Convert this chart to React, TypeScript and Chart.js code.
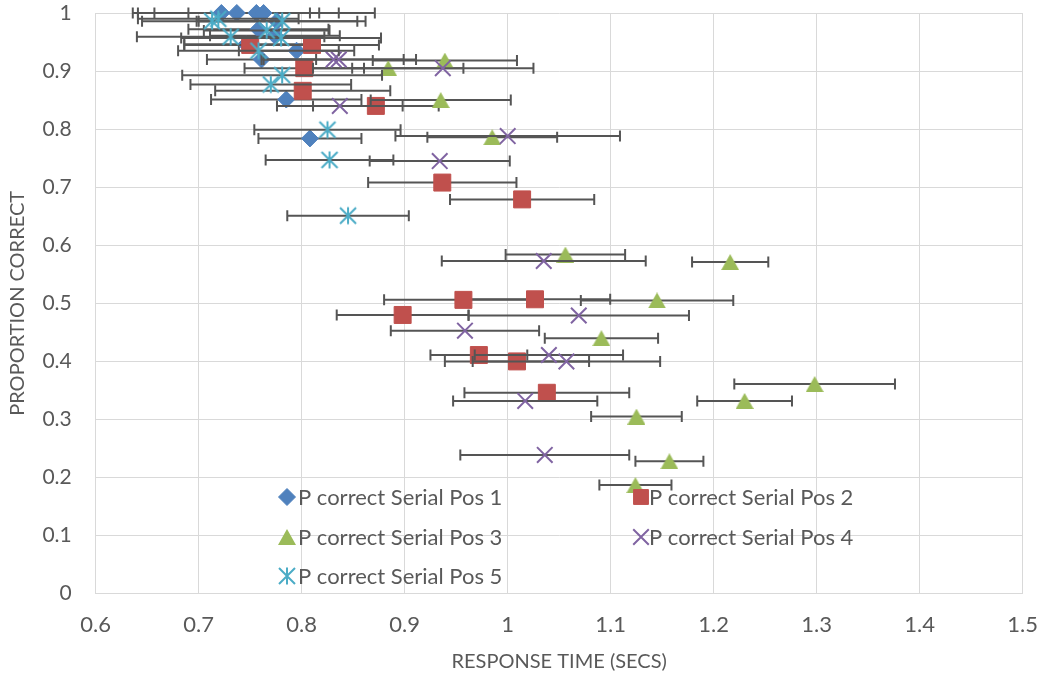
import React, { useEffect, useRef } from "react";
import { Chart, registerables } from "chart.js";
import { drawPoint } from "chart.js/helpers";

Chart.register(...registerables);

// ---------- DATA ----------
const seriesNames = [
  "P correct Serial Pos 1",
  "P correct Serial Pos 2",
  "P correct Serial Pos 3",
  "P correct Serial Pos 4",
  "P correct Serial Pos 5",
];

const pos1RT = [0.722, 0.737, 0.756, 0.763, 0.776, 0.758, 0.774, 0.746, 0.795, 0.761, 0.785, 0.808];
const pos1P = [1.0, 1.0, 1.0, 1.0, 0.986, 0.972, 0.961, 0.946, 0.935, 0.92, 0.851, 0.784];
const pos1Err = [0.086, 0.08, 0.115, 0.073, 0.078, 0.068, 0.063, 0.06, 0.056, 0.053, 0.073, 0.05];

const pos2RT = [0.75, 0.81, 0.8025, 0.801, 0.872, 0.9365, 1.014, 0.957, 1.0265, 0.898, 0.972, 1.009, 1.038];
const pos2P = [0.945, 0.945, 0.905, 0.866, 0.84, 0.708, 0.679, 0.506, 0.507, 0.48, 0.411, 0.4, 0.346];
const pos2Err = [0.064, 0.065, 0.058, 0.085, 0.061, 0.072, 0.07, 0.077, 0.073, 0.064, 0.047, 0.07, 0.08];

const pos3RT = [0.939, 0.884, 0.935, 0.985, 1.056, 1.216, 1.145, 1.091, 1.298, 1.23, 1.125, 1.157, 1.124];
const pos3P = [0.918, 0.905, 0.85, 0.786, 0.584, 0.571, 0.505, 0.44, 0.361, 0.332, 0.305, 0.228, 0.187];
const pos3Err = [0.07, 0.073, 0.068, 0.063, 0.058, 0.037, 0.074, 0.055, 0.078, 0.046, 0.044, 0.033, 0.035];

const pos4RT = [0.831, 0.836, 0.937, 0.837, 1.0, 0.934, 1.035, 1.069, 0.9585, 1.04, 1.057, 1.017, 1.036];
const pos4P = [0.92, 0.92, 0.905, 0.84, 0.788, 0.745, 0.573, 0.479, 0.453, 0.411, 0.4, 0.332, 0.239];
const pos4Err = [0.068, 0.075, 0.088, 0.061, 0.109, 0.068, 0.099, 0.107, 0.072, 0.072, 0.091, 0.07, 0.082];

const pos5RT = [0.713, 0.719, 0.781, 0.731, 0.766, 0.78, 0.758, 0.781, 0.77, 0.825, 0.827, 0.845];
const pos5P = [0.986, 0.99, 0.986, 0.959, 0.97, 0.957, 0.935, 0.893, 0.877, 0.799, 0.747, 0.651];
const pos5Err = [0.068, 0.078, 0.081, 0.091, 0.061, 0.097, 0.078, 0.097, 0.078, 0.071, 0.062, 0.059];

const xMin = 0.6;
const xMax = 1.5;
const yMin = 0;
const yMax = 1;
const tickStep = 0.1;

const xTitle = "RESPONSE TIME (SECS)";
const yTitle = "PROPORTION CORRECT";

// ---------- STYLE ----------
const COLORS = ["#4F81BD", "#C0504D", "#9BBB59", "#8064A2", "#4BACC6"];
const TEXT = "#595959";
const GRID = "#D9D9D9";
const ERR = "#555555";
const FONT = "Lato, 'Open Sans', sans-serif";

function makeTriangle(color: string) {
  const c = document.createElement("canvas");
  c.width = 18;
  c.height = 16;
  const g = c.getContext("2d")!;
  g.fillStyle = color;
  g.beginPath();
  g.moveTo(9, 0);
  g.lineTo(18, 16);
  g.lineTo(0, 16);
  g.closePath();
  g.fill();
  return c;
}

function makeAsterisk(color: string) {
  const c = document.createElement("canvas");
  c.width = 20;
  c.height = 20;
  const g = c.getContext("2d")!;
  g.strokeStyle = color;
  g.lineWidth = 2;
  g.beginPath();
  g.moveTo(10, 1.5);
  g.lineTo(10, 18.5);
  g.moveTo(2, 2);
  g.lineTo(18, 18);
  g.moveTo(18, 2);
  g.lineTo(2, 18);
  g.stroke();
  return c;
}

function toPoints(xs: number[], ys: number[]) {
  return xs.map((x, i) => ({ x, y: ys[i] }));
}

const fmt = (v: number | string) => String(+Number(v).toFixed(1));

export default function App() {
  const ref = useRef<HTMLCanvasElement | null>(null);

  useEffect(() => {
    if (!ref.current) return;
    const tri = makeTriangle(COLORS[2]);
    const ast = makeAsterisk(COLORS[4]);

    const errs = [pos1Err, pos2Err, pos3Err, pos4Err, pos5Err];

    const styles: any[] = [
      { pointStyle: "rectRot", radius: 8.5, borderWidth: 1 },
      { pointStyle: "rect", radius: 12, borderWidth: 1 },
      { pointStyle: tri, radius: 9, borderWidth: 0 },
      { pointStyle: "crossRot", radius: 11, borderWidth: 2 },
      { pointStyle: ast, radius: 9, borderWidth: 0 },
    ];

    const sets = [
      toPoints(pos1RT, pos1P),
      toPoints(pos2RT, pos2P),
      toPoints(pos3RT, pos3P),
      toPoints(pos4RT, pos4P),
      toPoints(pos5RT, pos5P),
    ];

    const errorBars = {
      id: "errorBars",
      beforeDatasetDraw(chart: any, args: any) {
        const i = args.index;
        const e = errs[i];
        const ds = chart.data.datasets[i];
        const xs = chart.scales.x;
        const ys = chart.scales.y;
        const ctx = chart.ctx;
        ctx.save();
        ctx.strokeStyle = ERR;
        ctx.lineWidth = 2;
        ds.data.forEach((p: any, k: number) => {
          const y = ys.getPixelForValue(p.y);
          const x1 = xs.getPixelForValue(p.x - e[k]);
          const x2 = xs.getPixelForValue(p.x + e[k]);
          ctx.beginPath();
          ctx.moveTo(x1, y);
          ctx.lineTo(x2, y);
          ctx.moveTo(x1, y - 5.5);
          ctx.lineTo(x1, y + 5.5);
          ctx.moveTo(x2, y - 5.5);
          ctx.lineTo(x2, y + 5.5);
          ctx.stroke();
        });
        ctx.restore();
      },
    };

    const legendPos = [
      { mx: 287, tx: 298, y: 497 },
      { mx: 641, tx: 649, y: 497 },
      { mx: 287, tx: 298, y: 537 },
      { mx: 641, tx: 649, y: 537 },
      { mx: 287, tx: 298, y: 576 },
    ];

    const insideLegend = {
      id: "insideLegend",
      afterDatasetsDraw(chart: any) {
        const ctx = chart.ctx;
        ctx.save();
        seriesNames.forEach((name, i) => {
          const p = legendPos[i];
          ctx.fillStyle = COLORS[i];
          ctx.strokeStyle = COLORS[i];
          ctx.lineWidth = styles[i].borderWidth || 1;
          const st = styles[i];
          drawPoint(ctx, {
            pointStyle: st.pointStyle,
            radius: i === 1 ? 10.5 : st.radius,
            rotation: 0,
            borderWidth: st.borderWidth,
          } as any, p.mx, p.y);
          ctx.fillStyle = TEXT;
          ctx.font = `22px ${FONT}`;
          ctx.textAlign = "left";
          ctx.textBaseline = "middle";
          ctx.fillText(name, p.tx, p.y + 1);
        });
        ctx.restore();
      },
    };

    const chart = new Chart(ref.current, {
      type: "scatter",
      data: {
        datasets: sets.map((d, i) => ({
          label: seriesNames[i],
          data: d,
          pointStyle: styles[i].pointStyle,
          pointRadius: styles[i].radius,
          pointBorderWidth: styles[i].borderWidth,
          backgroundColor: COLORS[i],
          borderColor: COLORS[i],
          showLine: false,
          clip: false as any,
          order: 5 - i,
        })),
      },
      options: {
        animation: false,
        responsive: false,
        maintainAspectRatio: false,
        layout: { padding: { top: 9.5, right: 21.3, bottom: 0, left: 0 } },
        plugins: {
          legend: { display: false },
          tooltip: { enabled: false },
        },
        scales: {
          x: {
            type: "linear",
            min: xMin,
            max: xMax,
            ticks: {
              stepSize: tickStep,
              callback: (v: any) => fmt(v),
              color: TEXT,
              font: { family: FONT, size: 22 },
              padding: 18,
              maxRotation: 0,
            },
            grid: { color: GRID, lineWidth: 1, drawTicks: false },
            border: { color: GRID },
            title: {
              display: true,
              text: xTitle,
              color: TEXT,
              font: { family: FONT, size: 20 },
              padding: { top: 0, bottom: 5 },
            },
            afterFit: (s: any) => {
              s.height = 85.3;
              s.paddingLeft = 0;
              s.paddingRight = 0;
            },
          },
          y: {
            type: "linear",
            min: yMin,
            max: yMax,
            ticks: {
              stepSize: tickStep,
              callback: (v: any) => fmt(v),
              color: TEXT,
              font: { family: FONT, size: 21 },
              padding: 24,
            },
            grid: { color: GRID, lineWidth: 1, drawTicks: false },
            border: { color: GRID },
            title: {
              display: true,
              text: yTitle,
              color: TEXT,
              font: { family: FONT, size: 20 },
              padding: { top: 6, bottom: 0 },
            },
            afterFit: (s: any) => {
              s.width = 95.7;
              s.paddingTop = 0;
              s.paddingBottom = 0;
            },
          },
        },
      },
      plugins: [errorBars, insideLegend],
    } as any);

    return () => chart.destroy();
  }, []);

  return (
    <div style={{ position: "fixed", left: 0, top: 0, width: 1044, height: 679, background: "#fff" }}>
      <canvas ref={ref} width={1044} height={679} style={{ width: 1044, height: 679, display: "block" }} />
    </div>
  );
}
